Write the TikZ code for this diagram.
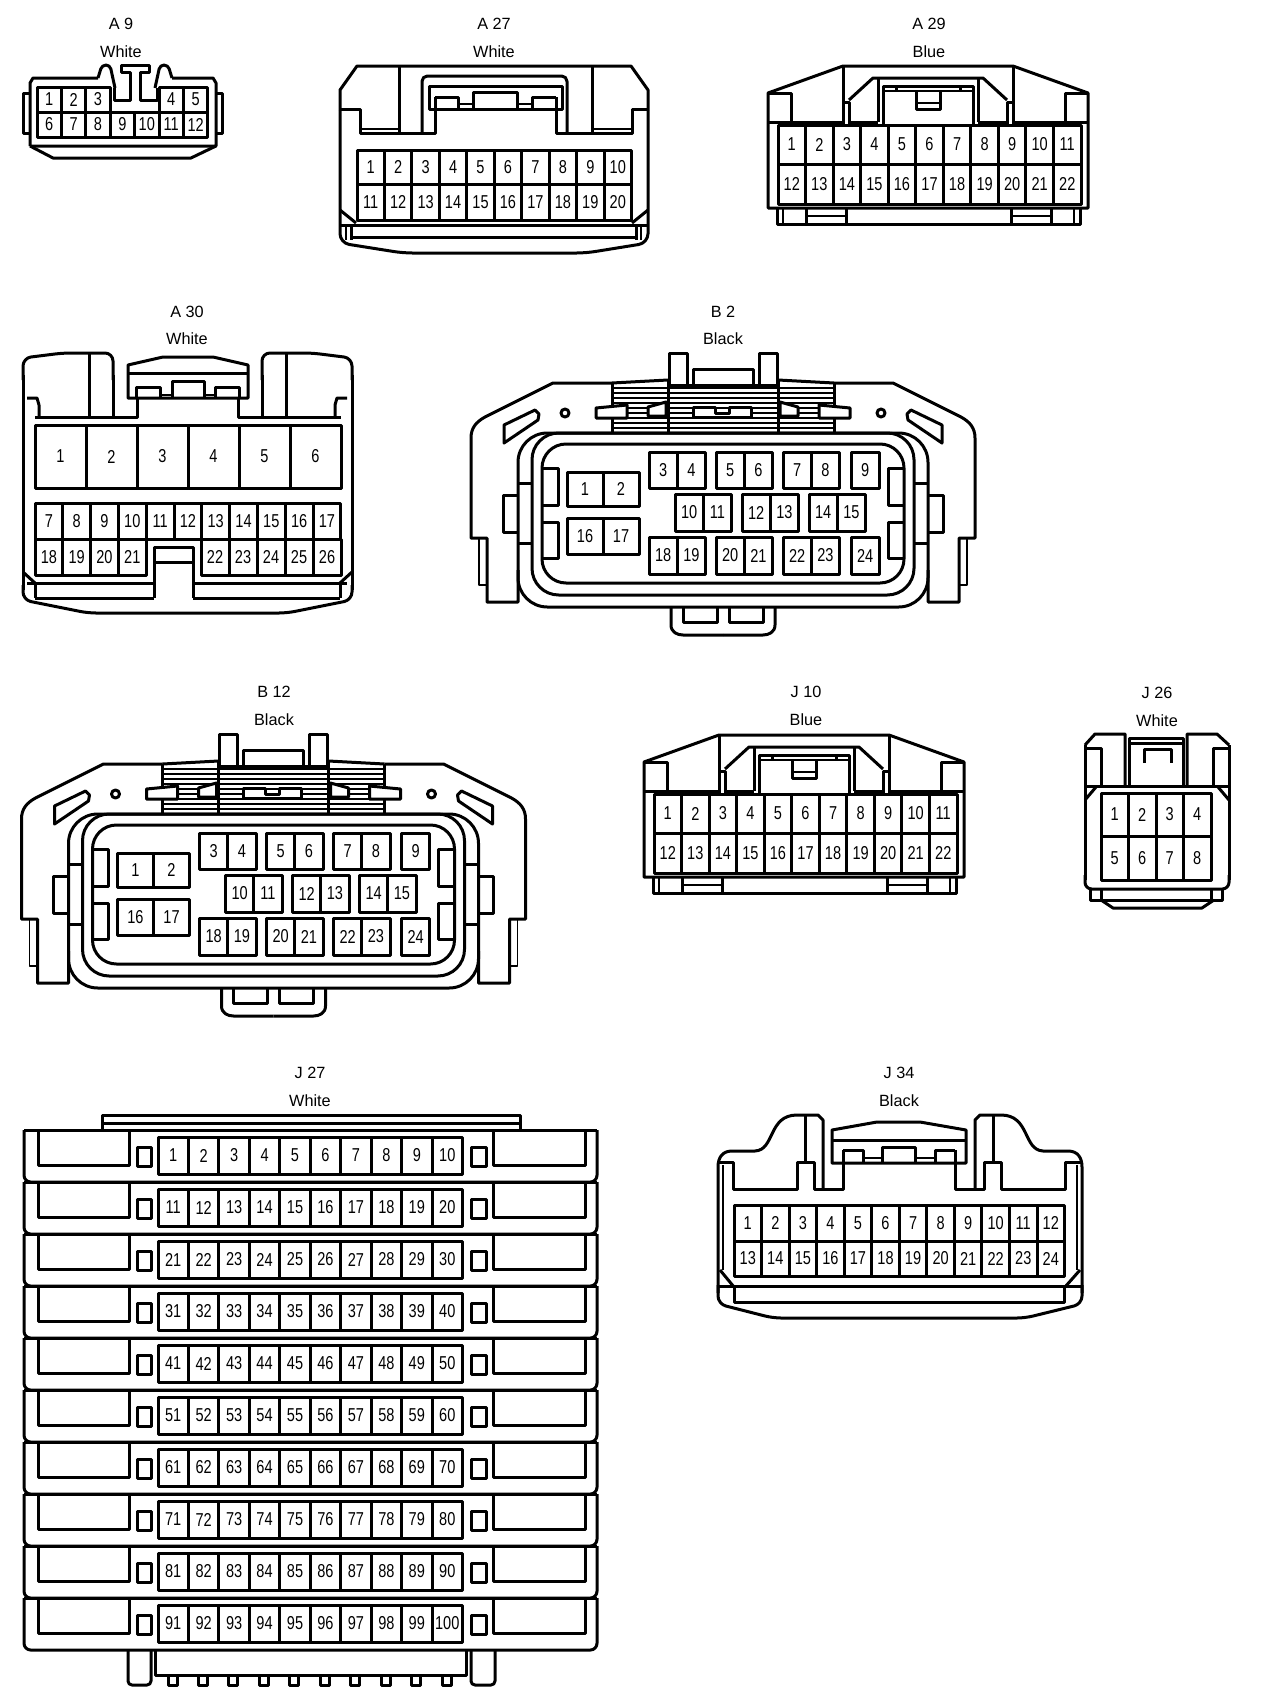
\documentclass[tikz,border=0pt]{standalone}
\usepackage{fontspec}
\setmainfont{Liberation Sans}
\newfontfamily\pinfont[FakeStretch=0.78]{Liberation Sans}
\usepackage{tikz}

\tikzset{
  pin/.style={draw,line width=2.25pt,inner sep=0pt,font=\pinfont\fontsize{14}{14}\selectfont},
  tag/.style={inner sep=0.75pt,font=\fontsize{12.2}{12.2}\selectfont},
  fine/.style={line width=1.1pt},
  stripe/.style={line width=1.5pt},
}

% one row of pin cells: prefix, first number, count, left, top, pitch, height
\newcommand{\pinrow}[7]{%
  \foreach \i in {1,...,#3} {
    \pgfmathtruncatemacro{\n}{#2+\i-1}
    \node[pin,minimum width={#6*0.75pt},minimum height={#7*0.75pt}] (#1\n) at ({#4+(\i-0.5)*#6},{#5+#7/2}) {\n};
  }%
}

% housing used by A 29 and J 10
\newcommand{\widehousing}[1]{%
  \draw (767,208) -- (767,93) -- (842,66) -- (1012,66) -- (1087,93) -- (1087,208) -- cycle ;
  \draw (767,122) -- (842,122) ; \draw (1012,122) -- (1087,122) ;
  \draw (767,93) -- (790,93) -- (790,122) ; \draw (1087,93) -- (1064,93) -- (1064,122) ;
  \draw (842,66) -- (842,125) ; \draw (1012,66) -- (1012,125) ;
  \draw (842,102) -- (848,102) -- (848,125) ; \draw (1012,102) -- (1006,102) -- (1006,125) ;
  \draw (848,100) -- (872,78) -- (982,78) -- (1006,100) ;
  \draw (877,78) -- (877,122) ; \draw (977,78) -- (977,122) ;
  \draw (848,122) -- (877,122) ; \draw (977,122) -- (1006,122) ;
  \draw (882,125) -- (882,86) -- (972,86) -- (972,125) ;
  \draw[fine] (882,91) -- (972,91) ;
  \draw (895,86) -- (895,92) ; \draw (959,86) -- (959,92) ;
  \draw (915,92) -- (915,109) -- (939,109) -- (939,92) ;
  \draw[fine] (915,103) -- (939,103) ;
  \draw (776,208) -- (776,224) -- (1079,224) -- (1079,208) ;
  \draw[fine] (782,208) -- (782,224) ; \draw[fine] (1073,208) -- (1073,224) ;
  \draw (805,208) -- (805,224) ; \draw (845,208) -- (845,224) ;
  \draw (1010,208) -- (1010,224) ; \draw (1050,208) -- (1050,224) ;
  \draw[fine] (805,216) -- (845,216) ; \draw[fine] (1010,216) -- (1050,216) ;
  \pinrow{#1}{1}{11}{777}{125}{27.55}{39}
  \pinrow{#1}{12}{11}{777}{164}{27.55}{40}
}

% half of the housing used by B 2 and B 12, x measured from the middle
\newcommand{\bhalf}{%
  \draw (-111,383) -- (-170,383) -- (-238,417) .. controls (-247,422) and (-252,428) .. (-252,438) -- (-252,538) -- (-236,538) -- (-236,602) -- (-205,602) -- (-205,570) ;
  \draw[fine] (-244,538) -- (-244,585) -- (-236,585) ;
  \draw (-219,425) -- (-188,410) -- (-184,414) -- (-185,420) -- (-219,443) -- cycle ;
  \draw (-158,413) circle (4) ;
  \draw (-205,495) -- (-220,495) -- (-220,532) -- (-205,532) ;
  \draw (-205,483) -- (-192,483) ; \draw (-205,543) -- (-192,543) ;
  \draw (-181,468) -- (-165,468) -- (-165,505) -- (-181,505) ;
  \draw (-181,522) -- (-165,522) -- (-165,558) -- (-181,558) ;
  \draw (-54,385) -- (-54,353) -- (-36,353) -- (-36,385) ;
  \draw (-55,380) -- (-55,433) ;
  \draw (-111,383) -- (-111,433) ;
  \draw (-111,383) -- (-55,380) ;
  \draw[fill=white] (-127,408) -- (-96,405) -- (-96,418) -- (-127,418) -- cycle ;
  \draw[fill=white] (-75,407) -- (-57,402) -- (-57,416) -- (-75,416) -- cycle ;
  \draw (-52,607) -- (-52,625) .. controls (-52,632) and (-46,635) .. (-40,635) -- (0,635) ;
  \draw (-40,607) -- (-40,622) -- (-6,622) -- (-6,607) ;
}

\newcommand{\bconn}[3]{%
  \begin{scope}[shift={(#2,#3)}]
    \foreach \yy in {388,393,...,428} { \draw[stripe] (-110,\yy) -- (110,\yy) ; }
    \foreach \sx in {1,-1} { \begin{scope}[xscale=\sx] \bhalf \end{scope} }
    \draw (-30,385) -- (-30,369) -- (30,369) -- (30,385) ;
    \draw (-54,385) -- (54,385) ;
    \draw[fill=white] (-30,407) -- (-8,407) -- (-8,413) -- (6,413) -- (6,407) -- (28,407) -- (28,417) -- (-30,417) -- cycle ;
    \draw[rounded corners=22pt] (-205,433) -- (205,433) -- (205,607) -- (-205,607) -- cycle ;
    \draw[rounded corners=20pt] (-191,433) -- (191,433) -- (191,595) -- (-191,595) -- cycle ;
    \draw[rounded corners=18pt] (-181,444) -- (181,444) -- (181,583) -- (-181,583) -- cycle ;
    \pinrow{#1}{1}{2}{-156}{472}{36}{34}
    \pinrow{#1}{16}{2}{-156}{518}{36}{36}
    \pinrow{#1}{3}{2}{-74}{452}{28.3}{36}
    \pinrow{#1}{5}{2}{-7}{452}{28.3}{36}
    \pinrow{#1}{7}{2}{60}{452}{28.3}{36}
    \pinrow{#1}{9}{1}{128}{452}{28.3}{36}
    \pinrow{#1}{10}{2}{-48}{494}{28.3}{37}
    \pinrow{#1}{12}{2}{19}{494}{28.3}{37}
    \pinrow{#1}{14}{2}{86}{494}{28.3}{37}
    \pinrow{#1}{18}{2}{-74}{537}{28.3}{37}
    \pinrow{#1}{20}{2}{-7}{537}{28.3}{37}
    \pinrow{#1}{22}{2}{60}{537}{28.3}{37}
    \pinrow{#1}{24}{1}{128}{537}{28.3}{37}
  \end{scope}
}

\begin{document}
\begin{tikzpicture}[x=0.75pt,y=0.75pt,yscale=-1,xscale=1,line width=2.25pt,line join=round]
\useasboundingbox (0,0) rectangle (1264,1706);

% A 9
\node[tag] (a9name) at (121,24) {A 9};
\node[tag] (a9color) at (121,52) {White};
\draw (30,146) -- (30,83) -- (33,78) -- (98,78) ;
\draw (172,78) -- (213,78) -- (216,83) -- (216,146) -- (30,146) ;
\draw (30,146) -- (53,158) -- (191,158) -- (216,146) ;
\draw (30,93) -- (23,93) -- (23,133) -- (30,133) ;
\draw (216,93) -- (222,93) -- (222,133) -- (216,133) ;
\draw[rounded corners=3pt] (98,78) -- (102,65) -- (110,65) -- (115,88) ;
\draw[rounded corners=3pt] (172,78) -- (168,65) -- (160,65) -- (155,88) ;
\draw (114,88) -- (114,100) -- (130,100) -- (130,72) -- (121,72) -- (121,65) -- (149,65) -- (149,72) -- (140,72) -- (140,100) -- (157,100) -- (157,88) ;
\pinrow{a9p}{1}{3}{37}{87}{24.4}{25}
\pinrow{a9p}{4}{2}{159}{87}{24.4}{25}
\pinrow{a9p}{6}{7}{37}{112}{24.4}{25}

% A 27
\node[tag] (a27name) at (494,24) {A 27};
\node[tag] (a27color) at (494,52) {White};
\draw (340,110) -- (340,90) -- (357,66) -- (631,66) -- (648,90) -- (648,110) ;
\draw[rounded corners=7pt] (340,110) -- (340,243) -- (403,253) -- (586,253) -- (648,243) -- (648,110) ;
\draw (340,109) -- (360,109) -- (360,133) -- (435,133) -- (435,97) ;
\draw (648,109) -- (632,109) -- (632,133) -- (556,133) -- (556,97) ;
\draw (399,66) -- (399,133) ; \draw (592,66) -- (592,133) ;
\draw[fine] (360,129) -- (399,129) ; \draw[fine] (592,129) -- (632,129) ;
\draw[rounded corners=4pt] (422,133) -- (422,76) -- (567,76) -- (567,133) ;
\draw (429,109) -- (429,86) -- (562,86) -- (562,109) -- cycle ;
\draw (435,97) -- (458,97) -- (458,109) ;
\draw (473,109) -- (473,92) -- (517,92) -- (517,109) ;
\draw (532,109) -- (532,97) -- (556,97) ;
\draw[fine] (458,104) -- (473,104) ; \draw[fine] (517,104) -- (532,104) ;
\draw (340,225) -- (648,225) ;
\draw (351,237) -- (636,237) ;
\draw (340,210) -- (356,223) ; \draw (648,210) -- (632,223) ;
\draw[fine] (346,225) -- (346,240) ; \draw (351,225) -- (351,240) ;
\draw[fine] (641,225) -- (641,240) ; \draw (636,225) -- (636,240) ;
\pinrow{a27p}{1}{10}{357}{150}{27.45}{34}
\pinrow{a27p}{11}{10}{357}{184}{27.45}{36}

% A 29
\node[tag] (a29name) at (929,24) {A 29};
\node[tag] (a29color) at (929,52) {Blue};
\begin{scope}[shift={(1,0)}]
\widehousing{a29p}
\end{scope}

% A 30
\node[tag] (a30name) at (187,312) {A 30};
\node[tag] (a30color) at (187,339) {White};
\draw[rounded corners=6pt] (23,380) -- (23,358) -- (63,353) -- (113,353) -- (113,380) ;
\draw (113,375) -- (113,417) ; \draw (89,353) -- (89,417) ;
\draw (35,417) -- (137,417) -- (137,398) ;
\draw (238,398) -- (238,417) -- (341,417) ;
\draw (27,398) -- (37,398) -- (39,405) -- (39,417) ;
\draw (347,398) -- (337,398) -- (335,405) -- (335,417) ;
\draw[rounded corners=6pt] (352,380) -- (352,358) -- (312,353) -- (262,353) -- (262,380) ;
\draw (262,375) -- (262,417) ; \draw (286,353) -- (286,417) ;
\draw (128,398) -- (128,365) -- (163,357) -- (213,357) -- (248,365) -- (248,398) -- cycle ;
\draw (128,373) -- (248,373) ;
\draw (136,398) -- (136,387) -- (160,387) -- (160,398) ;
\draw (172,398) -- (172,381) -- (204,381) -- (204,398) ;
\draw (215,398) -- (215,387) -- (239,387) -- (239,398) ;
\draw[fine] (160,395) -- (172,395) ; \draw[fine] (204,395) -- (215,395) ;
\draw (23,375) -- (23,590) ; \draw (352,375) -- (352,590) ;
\draw[rounded corners=6pt] (23,585) -- (23,600) -- (88,613) -- (287,613) -- (352,600) -- (352,585) ;
\pinrow{a30p}{1}{6}{35}{425}{51}{63}
\pinrow{a30p}{7}{11}{35}{503}{27.8}{36}
\pinrow{a30p}{18}{4}{35}{539}{27.8}{36}
\pinrow{a30p}{22}{5}{201}{539}{28}{36}
\draw (154,598) -- (154,547) -- (193,547) -- (193,598) ;
\draw (154,562) -- (193,562) ;
\draw (27,583) -- (154,583) ; \draw (193,583) -- (347,583) ;
\draw (35,598) -- (154,598) ; \draw (193,598) -- (340,598) ;
\draw (35,583) -- (35,598) ; \draw (340,583) -- (340,598) ;
\draw (23,572) -- (35,583) ; \draw (352,572) -- (340,583) ;

% B 2
\node[tag] (b2name) at (723,312) {B 2};
\node[tag] (b2color) at (723,339) {Black};
\bconn{b2p}{723}{0}

% B 12
\node[tag] (b12name) at (274,692) {B 12};
\node[tag] (b12color) at (274,720) {Black};
\bconn{b12p}{273.5}{381}

% J 10
\node[tag] (j10name) at (806,692) {J 10};
\node[tag] (j10color) at (806,720) {Blue};
\begin{scope}[shift={(-123,669)}]
\widehousing{j10p}
\end{scope}

% J 26
\node[tag] (j26name) at (1157,693) {J 26};
\node[tag] (j26color) at (1157,721) {White};
\begin{scope}[shift={(-5,0)}]
\draw (1090,745) -- (1100,734) -- (1130,734) -- (1130,785) ;
\draw (1234,745) -- (1222,734) -- (1192,734) -- (1192,785) ;
\draw (1090,745) -- (1090,880) ; \draw (1234,745) -- (1234,880) ;
\draw (1090,748) -- (1106,748) -- (1106,786) ;
\draw (1234,748) -- (1218,748) -- (1218,786) ;
\draw (1090,786) -- (1234,786) ;
\draw (1134,786) -- (1134,738) -- (1188,738) -- (1188,786) ;
\draw (1134,743) -- (1188,743) ;
\draw (1149,763) -- (1149,749) -- (1176,749) -- (1176,763) ;
\draw (1090,800) -- (1101,787) ; \draw (1234,800) -- (1223,787) ;
\draw[rounded corners=5pt] (1090,875) -- (1090,889) -- (1234,889) -- (1234,875) ;
\draw (1095,889) -- (1095,900) -- (1227,900) -- (1227,889) ;
\draw (1106,889) -- (1106,900) ; \draw (1216,889) -- (1216,900) ;
\draw (1106,900) -- (1118,908) -- (1207,908) -- (1219,900) ;
\pinrow{j26p}{1}{4}{1106}{793}{27.5}{43}
\pinrow{j26p}{5}{4}{1106}{836}{27.5}{44}
\end{scope}

% J 27
\node[tag] (j27name) at (310,1073) {J 27};
\node[tag] (j27color) at (310,1101) {White};
\draw (102,1130) -- (102,1115) -- (520,1115) -- (520,1130) ;
\draw (102,1123) -- (520,1123) ;
\foreach \r in {0,...,9} {
  \pgfmathsetmacro{\yy}{1130+52*\r}
  \pgfmathtruncatemacro{\first}{10*\r+1}
  \begin{scope}[shift={(0,\yy)}]
    \draw (24,0) -- (597,0) ;
    \draw[rounded corners=5pt] (24,0) -- (24,52) -- (597,52) -- (597,0) ;
    \draw (38,0) -- (38,35) -- (129,35) -- (129,0) ;
    \draw (493,0) -- (493,35) -- (585,35) -- (585,0) ;
    \draw (137,17) rectangle (151,36) ;
    \draw (471,17) rectangle (486,36) ;
    \pinrow{j27p}{\first}{10}{158}{7}{30.45}{37}
  \end{scope}
}
\draw[rounded corners=3pt] (128,1650) -- (128,1685) -- (151,1685) -- (151,1650) ;
\draw[rounded corners=3pt] (471,1650) -- (471,1685) -- (495,1685) -- (495,1650) ;
\draw (155,1650) -- (155,1675) -- (466,1675) -- (466,1650) ;
\foreach \t in {0,...,9} {
  \draw ({168+\t*30.45},1675) -- ({168+\t*30.45},1685) -- ({177+\t*30.45},1685) -- ({177+\t*30.45},1675) ;
}

% J 34
\node[tag] (j34name) at (899,1073) {J 34};
\node[tag] (j34color) at (899,1101) {Black};
\draw (718,1293) -- (718,1167) .. controls (718,1158) and (722,1151) .. (732,1151) -- (755,1151) .. controls (775,1150) and (768,1115) .. (797,1115) -- (818,1115) -- (823,1120) -- (823,1188) ;
\draw (1082,1293) -- (1082,1167) .. controls (1082,1158) and (1078,1151) .. (1068,1151) -- (1043,1151) .. controls (1023,1150) and (1030,1115) .. (1001,1115) -- (980,1115) -- (975,1120) -- (975,1188) ;
\draw (805,1115) -- (805,1162) ; \draw (993,1115) -- (993,1162) ;
\draw (718,1162) -- (733,1162) -- (733,1189) -- (797,1189) -- (797,1162) -- (814,1162) -- (814,1189) -- (843,1189) -- (843,1150) ;
\draw (1082,1162) -- (1065,1162) -- (1065,1189) -- (1001,1189) -- (1001,1162) -- (984,1162) -- (984,1189) -- (955,1189) -- (955,1150) ;
\draw (832,1163) -- (832,1130) -- (877,1122) -- (920,1122) -- (966,1130) -- (966,1163) -- cycle ;
\draw (832,1140) -- (966,1140) ;
\draw (843,1150) -- (863,1150) -- (863,1163) ;
\draw (882,1163) -- (882,1147) -- (915,1147) -- (915,1163) ;
\draw (935,1163) -- (935,1150) -- (955,1150) ;
\draw[fine] (863,1158) -- (882,1158) ; \draw[fine] (915,1158) -- (935,1158) ;
\draw[fine] (723,1165) -- (723,1270) ; \draw[fine] (1077,1165) -- (1077,1270) ;
\draw[rounded corners=6pt] (718,1285) -- (718,1304) -- (773,1318) -- (1025,1318) -- (1082,1304) -- (1082,1285) ;
\draw (718,1286) -- (1082,1286) ;
\draw (734,1286) -- (734,1302) -- (1064,1302) -- (1064,1286) ;
\draw (720,1270) -- (734,1287) ; \draw (1080,1270) -- (1065,1287) ;
\pinrow{j34p}{1}{12}{734}{1205}{27.55}{36}
\pinrow{j34p}{13}{12}{734}{1241}{27.55}{35}

\end{tikzpicture}
\end{document}
